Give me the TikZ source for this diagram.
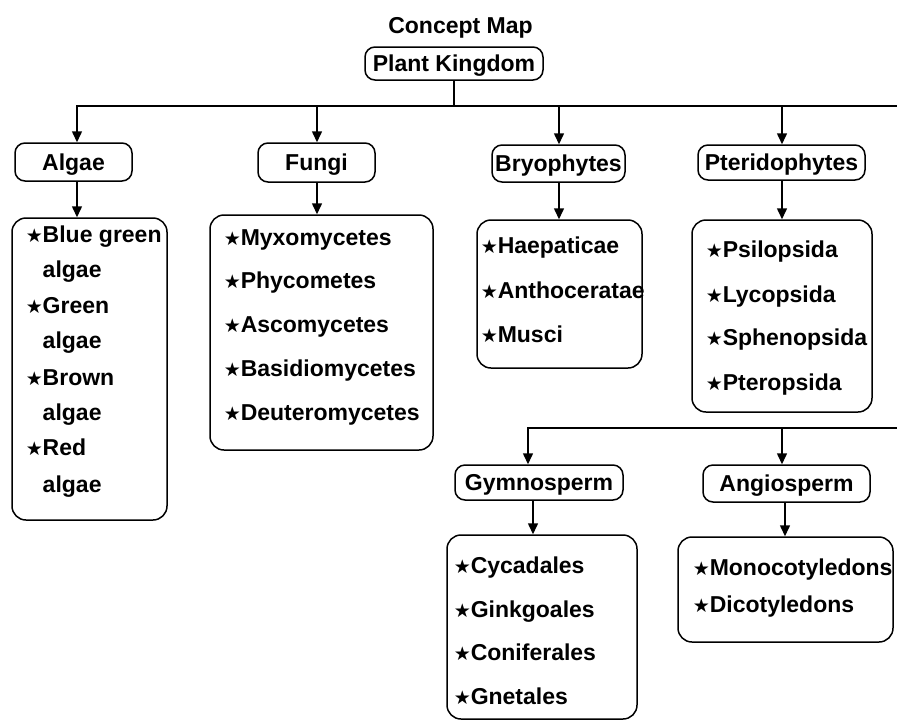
\documentclass[tikz,border=0pt]{standalone}
\usepackage{fontspec}
\setmainfont{Liberation Sans}
\newfontfamily\symf{DejaVu Sans}
\usetikzlibrary{arrows.meta}
\newcommand{\bst}{\makebox[17pt][l]{\raisebox{-0.5pt}{\symf\fontsize{19}{19}\selectfont ★}}}
\newcommand{\bsp}{\hspace*{17pt}}
\begin{document}
\begin{tikzpicture}[x=1pt,y=-1pt,
  font=\fontsize{23}{23}\selectfont\bfseries,
  line width=1.5pt,
  hbox/.style={draw, rounded corners=10pt, inner sep=0pt, text height=16.5pt, text depth=0pt, align=center},
  lbox/.style={draw, rounded corners=14pt, inner sep=0pt},
  item/.style={anchor=base west, inner sep=0pt},
  arr/.style={-{Triangle[length=11pt,width=10pt]}}]
\useasboundingbox (0,0) rectangle (897,724);

% title and root
\node[anchor=base, inner sep=0pt] (title) at (460.5,33) {Concept Map};
\node[hbox, minimum width=178, minimum height=33] (pk) at (454,63.5) {Plant Kingdom};

% headers
\node[hbox, minimum width=117, minimum height=38] (hA) at (73.5,162) {Algae};
\node[hbox, minimum width=117, minimum height=39] (hF) at (316.5,162.5) {Fungi};
\node[hbox, minimum width=133, minimum height=37] (hB) at (558.5,163.5) {Bryophytes};
\node[hbox, minimum width=167, minimum height=35] (hP) at (781.5,162.5) {Pteridophytes};
\node[hbox, minimum width=168, minimum height=35] (hG) at (539,482.5) {Gymnosperm};
\node[hbox, minimum width=167, minimum height=37] (hN) at (786.5,483.5) {Angiosperm};

% list boxes
\node[lbox, minimum width=155, minimum height=302] (lA) at (89.5,369) {};
\node[lbox, minimum width=223, minimum height=235] (lF) at (321.5,332.5) {};
\node[lbox, minimum width=165, minimum height=148] (lB) at (559.5,294) {};
\node[lbox, minimum width=180, minimum height=192] (lP) at (782,316) {};
\node[lbox, minimum width=190, minimum height=184] (lG) at (542,627) {};
\node[lbox, minimum width=215, minimum height=105] (lN) at (785.5,589.5) {};

% list items
\node[item] (a1) at (25,242) {\bst Blue green};
\node[item] (a2) at (25,277) {\bsp algae};
\node[item] (a3) at (25,313) {\bst Green};
\node[item] (a4) at (25,348) {\bsp algae};
\node[item] (a5) at (25,385) {\bst Brown};
\node[item] (a6) at (25,420) {\bsp algae};
\node[item] (a7) at (25,455) {\bst Red};
\node[item] (a8) at (25,492) {\bsp algae};

\node[item] (f1) at (223,245) {\bst Myxomycetes};
\node[item] (f2) at (223,288) {\bst Phycometes};
\node[item] (f3) at (223,332) {\bst Ascomycetes};
\node[item] (f4) at (223,376) {\bst Basidiomycetes};
\node[item] (f5) at (223,420) {\bst Deuteromycetes};

\node[item] (b1) at (480,253) {\bst Haepaticae};
\node[item] (b2) at (480,298) {\bst Anthoceratae};
\node[item] (b3) at (480,342) {\bst Musci};

\node[item] (p1) at (705,257) {\bst Psilopsida};
\node[item] (p2) at (705,302) {\bst Lycopsida};
\node[item] (p3) at (705,345) {\bst Sphenopsida};
\node[item] (p4) at (705,390) {\bst Pteropsida};

\node[item] (g1) at (453,573) {\bst Cycadales};
\node[item] (g2) at (453,617) {\bst Ginkgoales};
\node[item] (g3) at (453,660) {\bst Coniferales};
\node[item] (g4) at (453,704) {\bst Gnetales};

\node[item] (n1) at (692,575) {\bst Monocotyledons};
\node[item] (n2) at (692,612) {\bst Dicotyledons};

% bus coordinates
\coordinate (b1L) at (77,106);
\coordinate (b1R) at (897,106);
\coordinate (xF) at (317,106);
\coordinate (xB) at (559,106);
\coordinate (xP) at (782,106);
\coordinate (b2L) at (528,428);
\coordinate (b2R) at (897,428);
\coordinate (xN) at (782,428);
\coordinate (xG2) at (533,0);
\coordinate (xN2) at (785,0);

% connectors
\draw (pk.south) -- (pk.south |- b1L);
\draw[arr] (b1R) -- (b1L) -- (hA.north -| b1L);
\draw[arr] (xF) -- (hF.north -| xF);
\draw[arr] (xB) -- (hB.north -| xB);
\draw[arr] (xP) -- (hP.north -| xP);

\draw[arr] (hA.south -| b1L) -- (lA.north -| b1L);
\draw[arr] (hF.south -| xF) -- (lF.north -| xF);
\draw[arr] (hB.south -| xB) -- (lB.north -| xB);
\draw[arr] (hP.south -| xP) -- (lP.north -| xP);

\draw[arr] (b2R) -- (b2L) -- (hG.north -| b2L);
\draw[arr] (xN) -- (hN.north -| xN);
\draw[arr] (hG.south -| xG2) -- (lG.north -| xG2);
\draw[arr] (hN.south -| xN2) -- (lN.north -| xN2);
\end{tikzpicture}
\end{document}
